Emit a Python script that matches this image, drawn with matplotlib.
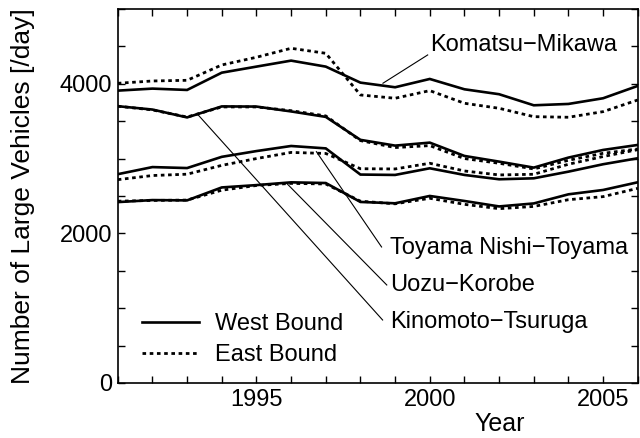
import matplotlib
matplotlib.use('Agg')
import matplotlib.pyplot as plt
from matplotlib.ticker import MultipleLocator

# Traffic volume data (large vehicles per day)
years = list(range(1991, 2007))

komatsu_west = [3908, 3935, 3917, 4148, 4229, 4309, 4229, 4015, 3953, 4064, 3926, 3860, 3712, 3730, 3806, 3971]
komatsu_east = [4006, 4037, 4046, 4251, 4354, 4474, 4407, 3850, 3806, 3908, 3739, 3672, 3560, 3552, 3627, 3783]

kinomoto_west = [3700, 3655, 3550, 3697, 3695, 3630, 3557, 3250, 3173, 3213, 3035, 2959, 2879, 3013, 3115, 3182]
kinomoto_east = [3700, 3650, 3555, 3690, 3690, 3640, 3570, 3240, 3147, 3173, 3000, 2937, 2861, 2977, 3070, 3128]

toyama_west = [2791, 2886, 2873, 3023, 3100, 3168, 3136, 2786, 2781, 2870, 2781, 2723, 2736, 2825, 2924, 3004]
toyama_east = [2718, 2773, 2791, 2909, 3000, 3082, 3068, 2864, 2861, 2937, 2834, 2781, 2790, 2924, 3027, 3119]

uozu_west = [2418, 2445, 2441, 2614, 2645, 2682, 2673, 2420, 2402, 2500, 2433, 2360, 2400, 2522, 2580, 2683]
uozu_east = [2430, 2440, 2445, 2577, 2640, 2668, 2660, 2430, 2395, 2469, 2388, 2330, 2360, 2450, 2491, 2602]

section_names = ['Komatsu\u2212Mikawa', 'Kinomoto\u2212Tsuruga', 'Uozu\u2212Korobe', 'Toyama Nishi\u2212Toyama']
# leader line: (start year, start value, end year, end value), text anchored at the end
leaders = [(1998.65, 4007, 1999.94, 4385),
           (1993.32, 3583, 1998.64, 842),
           (1995.87, 2670, 1998.76, 1310),
           (1996.73, 3092, 1998.61, 1818)]
label_pos = [(2000.0, 4519), (1998.85, 815), (1998.85, 1310), (1998.85, 1805)]

plt.rcParams['font.family'] = ['Liberation Sans', 'DejaVu Sans']
plt.rcParams['font.size'] = 17

fig = plt.figure(figsize=(6.4, 4.38), dpi=100)
ax = fig.add_axes([0.184, 0.1256, 0.8125, 0.854])

dot = (0, (1.3, 1.3))
west = [komatsu_west, kinomoto_west, toyama_west, uozu_west]
east = [komatsu_east, kinomoto_east, toyama_east, uozu_east]
for i in range(4):
    ax.plot(years, west[i], color='black', lw=1.9, solid_joinstyle='miter',
            label='West Bound' if i == 0 else '_nolegend_')
    ax.plot(years, east[i], color='black', lw=2.0, linestyle=dot,
            label='East Bound' if i == 0 else '_nolegend_')

for (x0, y0, x1, y1), name, (tx, ty) in zip(leaders, section_names, label_pos):
    ax.plot([x0, x1], [y0, y1], color='black', lw=0.8)
    ax.text(tx, ty, name, ha='left', va='center', fontsize=17)

ax.set_xlim(1991, 2006)
ax.set_ylim(0, 5000)
ax.xaxis.set_major_locator(MultipleLocator(5))
ax.xaxis.set_minor_locator(MultipleLocator(1))
ax.yaxis.set_major_locator(MultipleLocator(2000))
ax.yaxis.set_minor_locator(MultipleLocator(500))
ax.tick_params(which='both', direction='in', top=True, right=True, width=1.0)
ax.tick_params(which='major', length=5, pad=4)
ax.tick_params(which='minor', length=5)
for s in ax.spines.values():
    s.set_linewidth(1.2)

ax.text(0.735, -0.11, 'Year', transform=ax.transAxes, ha='center', va='center', fontsize=18)
ax.text(-0.183, 0.5, 'Number of Large Vehicles [/day]', transform=ax.transAxes,
        ha='center', va='center', rotation=90, fontsize=19)

ax.legend(loc='upper left', bbox_to_anchor=(0.047, 0.187), frameon=False,
          handlelength=2.4, handletextpad=0.7, labelspacing=0.38,
          borderpad=0, borderaxespad=0, fontsize=17)

fig.savefig('out.png', dpi=100)
